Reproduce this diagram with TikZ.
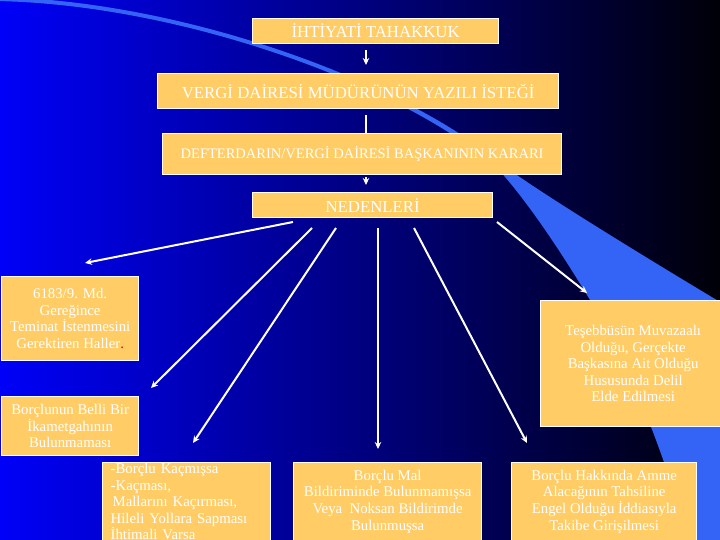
\documentclass[tikz,border=0pt]{standalone}
\usepackage{fontspec}
\setmainfont{Liberation Serif}
\usetikzlibrary{arrows.meta}

\definecolor{kututuruncu}{RGB}{255,204,102}
\definecolor{zeminmavi}{RGB}{0,0,248}
\definecolor{zeminorta}{RGB}{0,0,150}
\definecolor{zeminkoyu}{RGB}{0,0,8}
\definecolor{seritmavi}{RGB}{52,100,245}

\begin{document}
\begin{tikzpicture}[x=1pt,y=1pt,yscale=-1,xscale=1,
		kutu/.style={draw=white, line width=1.3pt, fill=kututuruncu, text=white, inner sep=0pt, align=center, anchor=north west},
		buyuk/.style={font=\fontsize{16.8}{19}\selectfont},
		orta/.style={font=\fontsize{14.5}{18}\selectfont},
		kucuk/.style={font=\fontsize{14.8}{16.6}\selectfont},
		ok/.style={draw=white, line width=2pt, -{Stealth[length=7pt,width=6.5pt]}},
		cizgi/.style={draw=white, line width=2pt}]

		% Frame of the slide
		\useasboundingbox (0,0) rectangle (720,540);
		\clip (0,0) rectangle (720,540);

		% Background, blue on the left fading to black on the right
		\shade[left color=zeminmavi, middle color=zeminorta, right color=zeminkoyu] (0,0) rectangle (720,540);

		% Light blue ribbon, thin at the top left, wide at the bottom right
		\fill[seritmavi] (-5,-3) .. controls (180,0) and (400,80) .. (500,163)
			.. controls (540,193) and (650,260) .. (725,305)
			-- (725,545) -- (692,545)
			.. controls (670,480) and (640,380) .. (590,300)
			.. controls (560,250) and (525,198) .. (497,168)
			.. controls (403,85) and (180,4) .. (-5,1)
			-- cycle;

		% Column of the main steps
		\coordinate (omurga) at (366,0);
		\node[kutu, buyuk, minimum width=246, minimum height=25] (ihtiyati) at (252,18) {İHTİYATİ TAHAKKUK};
		\node[kutu, buyuk, minimum width=401, minimum height=35] (istek) at (157,73) {VERGİ DAİRESİ MÜDÜRÜNÜN YAZILI İSTEĞİ};
		\node[kutu, orta, minimum width=399, minimum height=41] (karar) at (162,133) {DEFTERDARIN/VERGİ DAİRESİ BAŞKANININ KARARI};
		\node[kutu, buyuk, minimum width=240, minimum height=25] (nedenler) at (252,192) {NEDENLERİ};

		% Arrows between the main steps
		\draw[ok, shorten <=6pt, shorten >=8pt] (ihtiyati.south -| omurga) -- (istek.north -| omurga);
		\draw[cizgi, shorten <=6pt] (istek.south -| omurga) -- (karar.north -| omurga);
		\draw[ok, shorten <=2pt, shorten >=7pt] (karar.south -| omurga) -- (nedenler.north -| omurga);

		% The reasons
		\node[kutu, kucuk, minimum width=137, minimum height=84] (teminat) at (1,276) {6183/9. Md.\\Gereğince\\Teminat İstenmesini\\Gerektiren Haller\textcolor{red}{.}};
		\node[kutu, kucuk, minimum width=137, minimum height=59] (ikametgah) at (1,396) {Borçlunun Belli Bir\\İkametgahının\\Bulunmaması};
		\node[kutu, kucuk, minimum width=168, minimum height=78, align=left, text width=152, inner xsep=8pt] (kacma) at (102,462) {-Borçlu Kaçmışsa\\-Kaçması,\\\hspace*{2pt}Mallarını Kaçırması,\\Hileli Yollara Sapması\\İhtimali Varsa};
		\node[kutu, kucuk, minimum width=188, minimum height=78] (bildirim) at (293,462) {Borçlu Mal\\Bildiriminde Bulunmamışsa\\Veya\ \ Noksan Bildirimde\\Bulunmuşsa};
		\node[kutu, kucuk, minimum width=185, minimum height=78] (takip) at (511,462) {Borçlu Hakkında Amme\\Alacağının Tahsiline\\Engel Olduğu İddiasıyla\\Takibe Girişilmesi};
		\node[kutu, kucuk, minimum width=185, minimum height=126] (muvazaa) at (540,300) {Teşebbüsün Muvazaalı\\Olduğu, Gerçekte\\Başkasına Ait Olduğu\\Hususunda Delil\\Elde Edilmesi};

		% Start and end points of the fan of arrows
		\coordinate (b1) at (293,222); \coordinate (u1) at (85,263);
		\coordinate (b2) at (312,228); \coordinate (u2) at (151,388);
		\coordinate (b3) at (336,228); \coordinate (u3) at (193,443);
		\coordinate (b4) at (378,228); \coordinate (u4) at (378,449);
		\coordinate (b5) at (414,228); \coordinate (u5) at (527,443);
		\coordinate (b6) at (497,222); \coordinate (u6) at (587,293);

		% Fan of arrows from NEDENLERI
		\foreach \i in {1,...,6} {
			\draw[ok] (b\i) -- (u\i);
		}
	\end{tikzpicture}
\end{document}
